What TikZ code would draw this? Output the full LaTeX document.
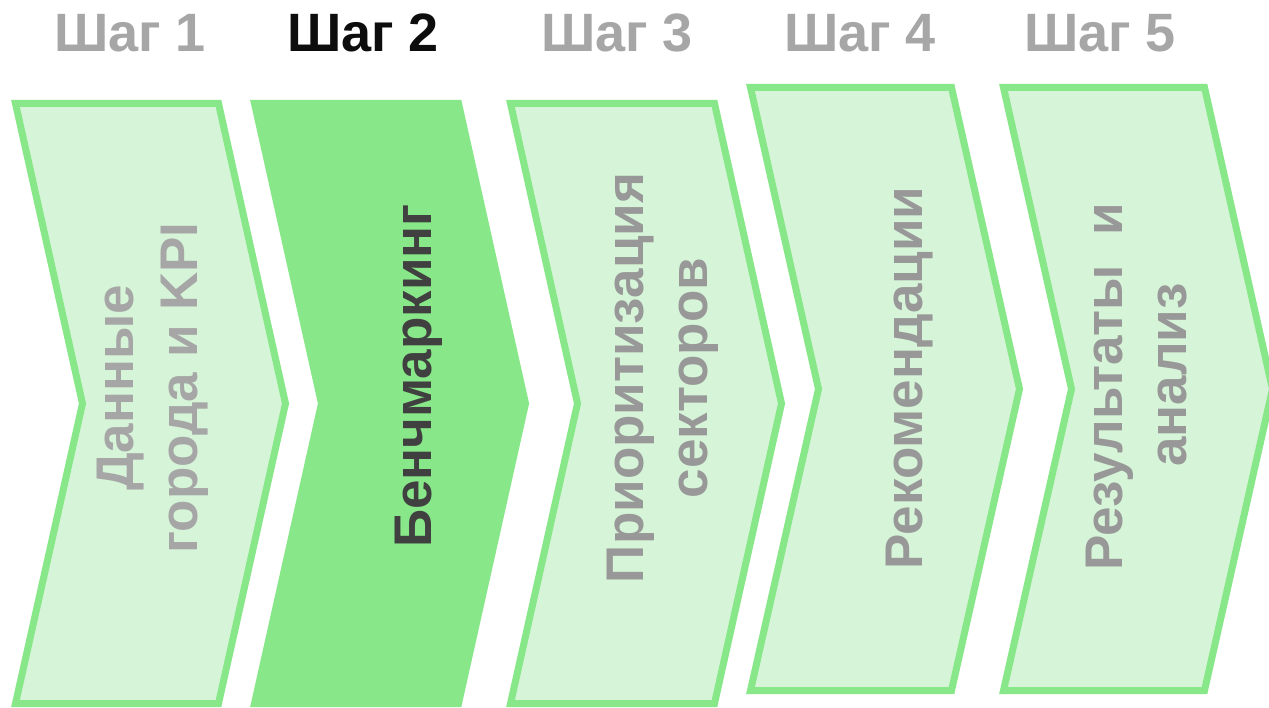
\documentclass[tikz,border=0pt]{standalone}
\usepackage{fontspec}
\setmainfont{Liberation Sans}
\definecolor{brd}{HTML}{88E788}
\definecolor{lfill}{HTML}{D6F5D8}
\definecolor{hgrey}{HTML}{A6A6A6}
\definecolor{tgrey}{HTML}{989898}
\definecolor{tgreyl}{HTML}{A6A6A6}
\definecolor{tdark}{HTML}{404040}
\definecolor{hdark}{HTML}{0D0D0D}
\tikzset{
  chevlight/.style={draw=brd, fill=lfill, line width=7pt, line join=miter},
  chevdark/.style={draw=brd, fill=brd, line width=7pt, line join=miter},
  steplabel/.style={font=\bfseries\fontsize{54}{63}\selectfont, inner sep=0pt, anchor=base},
  chevtext/.style={font=\bfseries\fontsize{53}{64}\selectfont, inner sep=0pt, rotate=90, align=center},
}
\newcommand{\chevpath}[6]{% style, L, R, top, bot, off
  \path[#1] (#2,#4) -- (#3,#4) -- ({#3+#6},{(#4+#5)/2}) -- (#3,#5) -- (#2,#5) -- ({#2+#6},{(#4+#5)/2}) -- cycle;}
\begin{document}
\begin{tikzpicture}[x=1pt,y=-1pt]
\useasboundingbox (0,0) rectangle (1269,708);
\fill[white] (0,0) rectangle (1269,708);
% chevrons
\chevpath{chevlight}{15.5}{218.5}{103.5}{703.5}{67}
\chevpath{chevdark}{254.5}{458.5}{103.5}{703.5}{67}
\chevpath{chevlight}{510.5}{714.5}{103.5}{703.5}{67}
\chevpath{chevlight}{750.5}{951.5}{87.5}{690.5}{68}
\chevpath{chevlight}{1003.5}{1204.5}{87.5}{690.5}{68}
% step labels
\node[steplabel, text=hgrey] (s1) at (130,52) {Шаг 1};
\node[steplabel, text=hdark] (s2) at (363,52) {Шаг 2};
\node[steplabel, text=hgrey] (s3) at (617,52) {Шаг 3};
\node[steplabel, text=hgrey] (s4) at (860,52) {Шаг 4};
\node[steplabel, text=hgrey] (s5) at (1100,52) {Шаг 5};
% chevron texts
\node[chevtext, text=tgreyl] (t1) at (153,388) {Данные\\города и KPI};
\node[chevtext, text=tdark] (t2) at (419,376) {Бенчмаркинг};
\node[chevtext, text=tgrey] (t3) at (663,378) {Приоритизация\\секторов};
\node[chevtext, text=tgrey] (t4) at (910,378) {Рекомендации};
\node[chevtext, text=tgrey] (t5) at (1137,387) {Результаты\ \ и\\\hspace*{24pt}анализ};
\end{tikzpicture}
\end{document}
